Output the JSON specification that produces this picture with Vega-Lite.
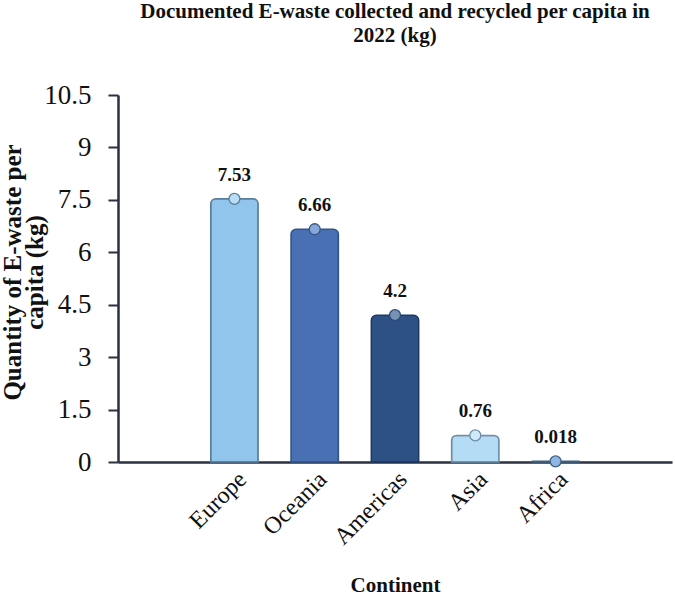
{
  "$schema": "https://vega.github.io/schema/vega-lite/v6.json",
  "autosize": {"type": "none"},
  "padding": {"left": 118, "top": 95, "right": 3, "bottom": 135},
  "width": 554,
  "height": 367,
  "background": "white",
  "title": {
    "text": ["Documented E-waste collected and recycled per capita in", "2022 (kg)"],
    "font": "Liberation Serif, Times New Roman, serif",
    "fontSize": 21,
    "fontWeight": "bold",
    "color": "#111111",
    "anchor": "middle",
    "lineHeight": 24,
    "offset": 35
  },
  "data": {
    "values": [
      {"continent": "Europe", "value": 7.53},
      {"continent": "Oceania", "value": 6.66},
      {"continent": "Americas", "value": 4.2},
      {"continent": "Asia", "value": 0.76},
      {"continent": "Africa", "value": 0.018}
    ]
  },
  "encoding": {
    "x": {
      "field": "continent",
      "type": "nominal",
      "scale": {
        "domain": [" ", "Europe", "Oceania", "Americas", "Asia", "Africa", "  "],
        "paddingInner": 0.41,
        "paddingOuter": 0.155
      },
      "axis": {
        "title": "Continent",
        "titleFont": "Liberation Serif, Times New Roman, serif",
        "titleFontSize": 21,
        "titleFontWeight": "bold",
        "titleColor": "#111111",
        "titleBaseline": "top",
        "titleY": 112,
        "labelFont": "Liberation Serif, Times New Roman, serif",
        "labelFontSize": 24,
        "labelColor": "#111111",
        "labelAngle": -45,
        "labelPadding": 5,
        "ticks": false,
        "domainColor": "#2B3140",
        "domainWidth": 2.5
      }
    },
    "y": {
      "field": "value",
      "type": "quantitative",
      "scale": {"domain": [0, 10.5], "nice": false},
      "axis": {
        "values": [0, 1.5, 3, 4.5, 6, 7.5, 9, 10.5],
        "labelExpr": "toString(datum.value)",
        "grid": false,
        "title": ["Quantity of E-waste per", "capita (kg)"],
        "titleFont": "Liberation Serif, Times New Roman, serif",
        "titleFontSize": 25,
        "titleFontWeight": "bold",
        "titleColor": "#111111",
        "titleLineHeight": 22,
        "titleX": -93,
        "titleY": 177,
        "titleAlign": "center",
        "titleBaseline": "bottom",
        "labelFont": "Liberation Serif, Times New Roman, serif",
        "labelFontSize": 27,
        "labelColor": "#111111",
        "labelPadding": 17,
        "tickSize": 10,
        "tickWidth": 2,
        "tickColor": "#2B3140",
        "domainColor": "#2B3140",
        "domainWidth": 2.5
      }
    }
  },
  "layer": [
    {
      "mark": {
        "type": "bar",
        "strokeWidth": 1.5,
        "cornerRadiusTopLeft": 5,
        "cornerRadiusTopRight": 5
      },
      "encoding": {
        "fill": {
          "field": "continent",
          "type": "nominal",
          "legend": null,
          "scale": {
            "domain": ["Europe", "Oceania", "Americas", "Asia", "Africa"],
            "range": ["#92C5EB", "#4A70B4", "#2E5185", "#B4DCF4", "#8DB6E2"]
          }
        },
        "stroke": {
          "field": "continent",
          "type": "nominal",
          "legend": null,
          "scale": {
            "domain": ["Europe", "Oceania", "Americas", "Asia", "Africa"],
            "range": ["#5B7E9C", "#34558A", "#1F3A63", "#6F8FA8", "#3F6080"]
          }
        }
      }
    },
    {
      "mark": {"type": "point", "shape": "circle", "filled": true, "size": 120, "opacity": 1, "strokeWidth": 1.3},
      "encoding": {
        "fill": {
          "field": "continent",
          "type": "nominal",
          "legend": null,
          "scale": {
            "domain": ["Europe", "Oceania", "Americas", "Asia", "Africa"],
            "range": ["#B8DDF5", "#86A8D9", "#7592B5", "#D0E9F8", "#8DB6E2"]
          }
        },
        "stroke": {
          "field": "continent",
          "type": "nominal",
          "legend": null,
          "scale": {
            "domain": ["Europe", "Oceania", "Americas", "Asia", "Africa"],
            "range": ["#5B7E9C", "#34558A", "#2B4A78", "#6F8FA8", "#3F6080"]
          }
        }
      }
    },
    {
      "mark": {
        "type": "text",
        "font": "Liberation Serif, Times New Roman, serif",
        "fontSize": 19,
        "fontWeight": "bold",
        "color": "#111111",
        "baseline": "middle",
        "dy": -24
      },
      "encoding": {
        "text": {"field": "value", "type": "quantitative", "format": ".4~g"}
      }
    }
  ],
  "resolve": {"scale": {"fill": "independent", "stroke": "independent"}},
  "config": {"view": {"stroke": null}}
}
